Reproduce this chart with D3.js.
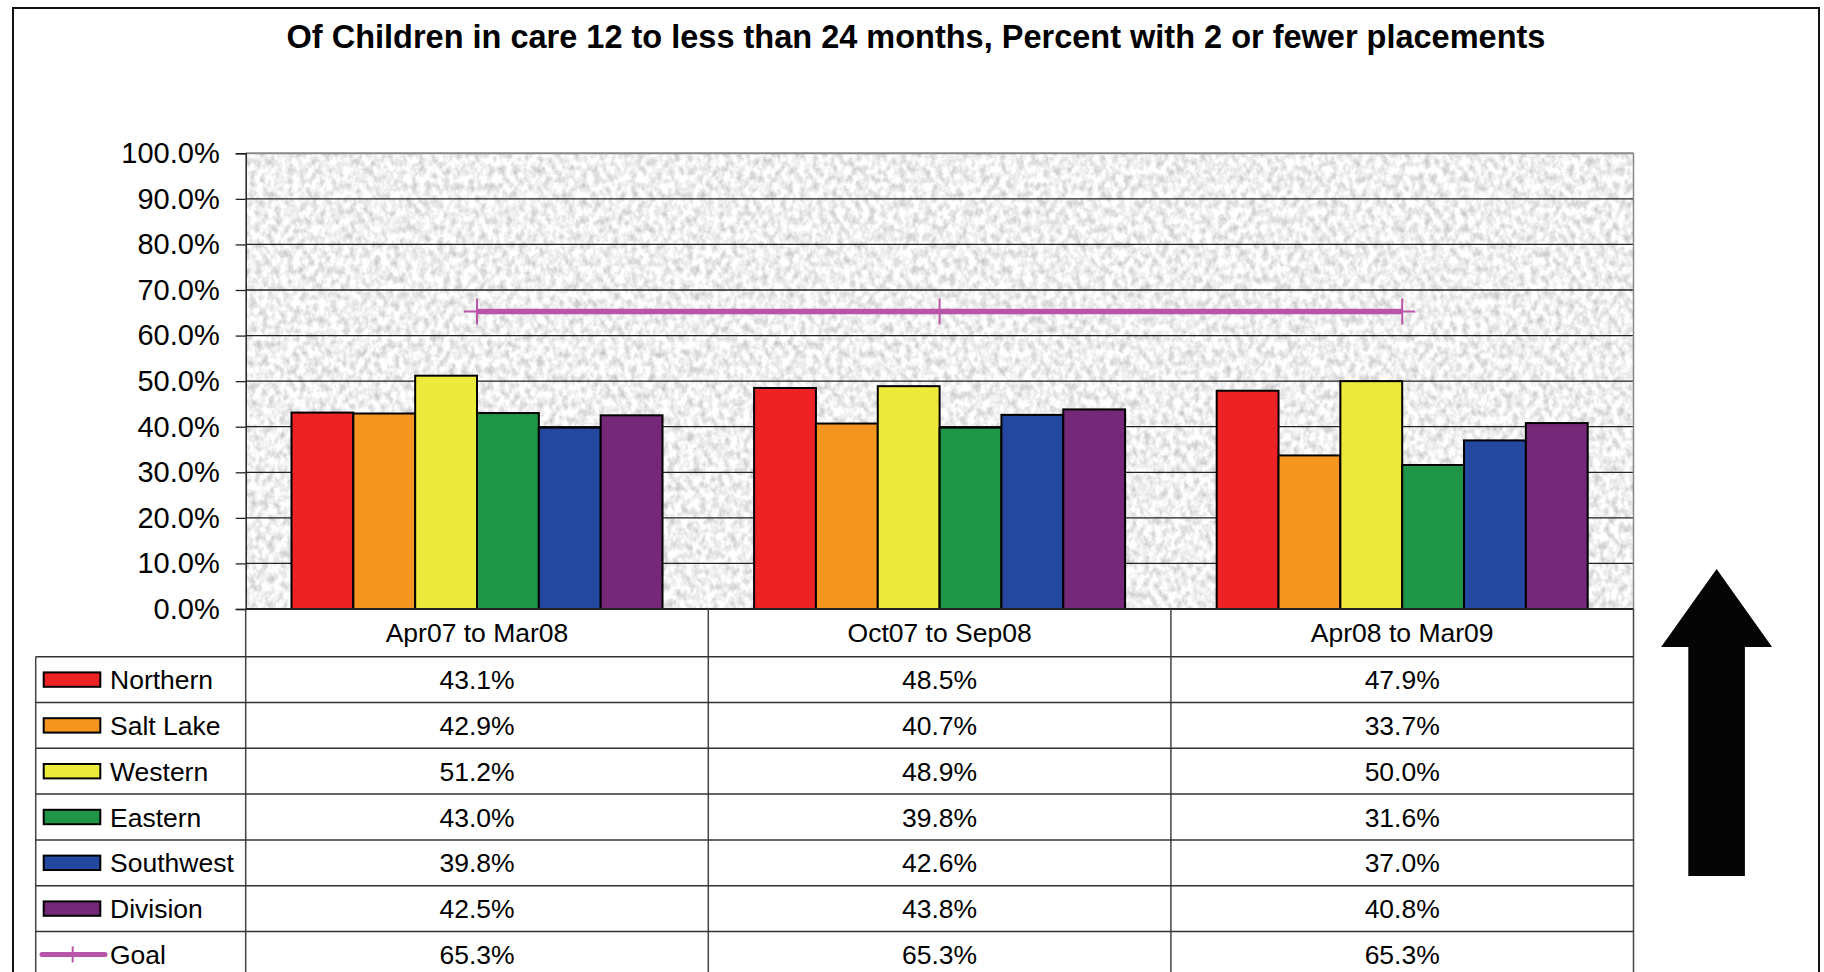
<!DOCTYPE html>
<html>
<head>
<meta charset="utf-8">
<script src="https://cdn.jsdelivr.net/npm/d3@7/dist/d3.min.js"></script>
<style>
  html, body { margin: 0; padding: 0; background: #fff; }
  svg { display: block; font-family: "Liberation Sans", Arial, sans-serif; }
</style>
</head>
<body>
<svg width="1824" height="972"></svg>
<script>
var categories = ["Apr07 to Mar08", "Oct07 to Sep08", "Apr08 to Mar09"];
var regions = ["Northern", "Salt Lake", "Western", "Eastern", "Southwest", "Division"];
var regionColors = ["#ed2224", "#f4951f", "#eeea3c", "#1f9548", "#24489f", "#752877"];
var northern = [43.1, 48.5, 47.9];
var saltLake = [42.9, 40.7, 33.7];
var western = [51.2, 48.9, 50.0];
var eastern = [43.0, 39.8, 31.6];
var southwest = [39.8, 42.6, 37.0];
var division = [42.5, 43.8, 40.8];
var goal = [65.3, 65.3, 65.3];
var yTicks = [0, 10, 20, 30, 40, 50, 60, 70, 80, 90, 100];

var series = [northern, saltLake, western, eastern, southwest, division].map(function (v, i) {
    return {name: regions[i], color: regionColors[i], values: v};
});

var svg = d3.select("svg"),
    box = {left: 13, top: 8, right: 1819, bottom: 995},
    plot = {left: 245.7, right: 1633.5, top: 153.3, bottom: 609},
    table = {left: 35.7, top: 656.7, rowH: 45.8},
    goalColor = "#b955a8";

var fmt = function (v) { return v.toFixed(1) + "%"; };

// granite-ish background texture
var defs = svg.append("defs");
var filt = defs.append("filter").attr("id", "granite")
    .attr("x", 0).attr("y", 0).attr("width", 1).attr("height", 1)
    .attr("color-interpolation-filters", "sRGB");
filt.append("feTurbulence").attr("type", "fractalNoise")
    .attr("baseFrequency", "0.16 0.12").attr("numOctaves", 3).attr("seed", 7);
filt.append("feColorMatrix").attr("type", "matrix")
    .attr("values", "0.42 0 0 0 0.73  0.42 0 0 0 0.73  0.42 0 0 0 0.73  0 0 0 0 1");
filt.append("feComposite").attr("in2", "SourceGraphic").attr("operator", "in");

svg.append("rect")
    .attr("x", box.left).attr("y", box.top)
    .attr("width", box.right - box.left).attr("height", box.bottom - box.top)
    .attr("fill", "#fff").attr("stroke", "#111").attr("stroke-width", 2);

svg.append("text")
    .attr("x", (box.left + box.right) / 2).attr("y", 48)
    .attr("text-anchor", "middle")
    .style("font-size", "32.5px").style("font-weight", "bold")
    .text("Of Children in care 12 to less than 24 months, Percent with 2 or fewer placements");

var x = d3.scaleBand().domain(categories).range([plot.left, plot.right]).padding(0),
    bw = x.bandwidth(),
    x1 = d3.scaleBand().domain(regions).range([bw * 0.099, bw * 0.901]).padding(0),
    y = d3.scaleLinear().domain([0, 100]).range([plot.bottom, plot.top]);

svg.append("rect")
    .attr("x", plot.left).attr("y", plot.top)
    .attr("width", plot.right - plot.left).attr("height", plot.bottom - plot.top)
    .attr("fill", "#ececec").attr("filter", "url(#granite)");

// gridlines
svg.append("g").selectAll("line")
    .data(yTicks.filter(function (t) { return t > 0 && t < 100; }))
    .enter().append("line")
    .attr("x1", plot.left).attr("x2", plot.right)
    .attr("y1", function (d) { return y(d); }).attr("y2", function (d) { return y(d); })
    .attr("stroke", "#222").attr("stroke-width", 1.3);

svg.append("line")
    .attr("x1", plot.left).attr("x2", plot.right)
    .attr("y1", plot.top).attr("y2", plot.top)
    .attr("stroke", "#888").attr("stroke-width", 2);
svg.append("line")
    .attr("x1", plot.right).attr("x2", plot.right)
    .attr("y1", plot.top).attr("y2", plot.bottom)
    .attr("stroke", "#888").attr("stroke-width", 1.5);

// y axis
var yAxis = svg.append("g")
    .attr("transform", "translate(" + plot.left + ",0)")
    .call(d3.axisLeft(y).tickValues(yTicks).tickSize(10).tickPadding(16)
        .tickFormat(function (d) { return d.toFixed(1) + "%"; }));
yAxis.select(".domain").attr("stroke", "#222").attr("stroke-width", 1.5);
yAxis.selectAll(".tick line").attr("stroke", "#222").attr("stroke-width", 1.3);
yAxis.selectAll(".tick text")
    .attr("fill", "#000")
    .style("font-size", "29px")
    .style("font-family", "'Liberation Sans', Arial, sans-serif");

// bars
var group = svg.append("g").selectAll("g")
    .data(categories)
    .enter().append("g")
    .attr("transform", function (d) { return "translate(" + x(d) + ",0)"; });

group.selectAll("rect")
    .data(function (c, ci) {
        return series.map(function (s) { return {name: s.name, color: s.color, value: s.values[ci]}; });
    })
    .enter().append("rect")
    .attr("x", function (d) { return x1(d.name); })
    .attr("y", function (d) { return y(d.value); })
    .attr("width", x1.bandwidth())
    .attr("height", function (d) { return y(0) - y(d.value); })
    .attr("fill", function (d) { return d.color; })
    .attr("stroke", "#000").attr("stroke-width", 2);

svg.append("line")
    .attr("x1", plot.left).attr("x2", plot.right)
    .attr("y1", plot.bottom).attr("y2", plot.bottom)
    .attr("stroke", "#222").attr("stroke-width", 2);

// goal line
var line = d3.line()
    .x(function (d, i) { return x(categories[i]) + bw / 2; })
    .y(function (d) { return y(d); });

svg.append("path")
    .datum(goal)
    .attr("d", line)
    .attr("fill", "none").attr("stroke", goalColor).attr("stroke-width", 5.5);

svg.append("g").selectAll("path")
    .data(goal)
    .enter().append("path")
    .attr("d", function (d, i) {
        var cx = x(categories[i]) + bw / 2, cy = y(d);
        return "M" + (cx - 13) + "," + cy + "H" + (cx + 13) + "M" + cx + "," + (cy - 13) + "V" + (cy + 13);
    })
    .attr("stroke", goalColor).attr("stroke-width", 2);

// data table
var rows = series.concat([{name: "Goal", color: goalColor, values: goal, isLine: true}]);
var tableBottom = table.top + rows.length * table.rowH;
var tbl = svg.append("g");

tbl.selectAll("text.cat")
    .data(categories)
    .enter().append("text")
    .attr("class", "cat")
    .attr("x", function (d) { return x(d) + bw / 2; })
    .attr("y", (plot.bottom + table.top) / 2 + 9.5)
    .attr("text-anchor", "middle")
    .style("font-size", "26.5px")
    .text(function (d) { return d; });

// vertical separators
tbl.selectAll("line.v")
    .data(categories.map(function (c) { return x(c); }).concat([plot.right]))
    .enter().append("line")
    .attr("x1", function (d) { return d; }).attr("x2", function (d) { return d; })
    .attr("y1", plot.bottom).attr("y2", tableBottom)
    .attr("stroke", "#444").attr("stroke-width", 1.5);
tbl.append("line")
    .attr("x1", table.left).attr("x2", table.left)
    .attr("y1", table.top).attr("y2", tableBottom)
    .attr("stroke", "#444").attr("stroke-width", 1.5);

// horizontal separators
tbl.selectAll("line.h")
    .data(d3.range(rows.length + 1))
    .enter().append("line")
    .attr("x1", table.left).attr("x2", plot.right)
    .attr("y1", function (i) { return table.top + i * table.rowH; })
    .attr("y2", function (i) { return table.top + i * table.rowH; })
    .attr("stroke", "#333").attr("stroke-width", 1.5);

var row = tbl.selectAll("g.row")
    .data(rows)
    .enter().append("g")
    .attr("class", "row")
    .attr("transform", function (d, i) { return "translate(0," + (table.top + i * table.rowH + table.rowH / 2) + ")"; });

row.filter(function (d) { return !d.isLine; })
    .append("rect")
    .attr("x", 43.7).attr("y", -7.2)
    .attr("width", 56.6).attr("height", 14.4)
    .attr("fill", function (d) { return d.color; })
    .attr("stroke", "#000").attr("stroke-width", 2);

var goalKey = row.filter(function (d) { return d.isLine; });
goalKey.append("line")
    .attr("x1", 42).attr("x2", 105).attr("y1", 0).attr("y2", 0)
    .attr("stroke", goalColor).attr("stroke-width", 5).attr("stroke-linecap", "round");
goalKey.append("line")
    .attr("x1", 72.7).attr("x2", 72.7).attr("y1", -8).attr("y2", 8)
    .attr("stroke", goalColor).attr("stroke-width", 2);

row.append("text")
    .attr("x", 110).attr("y", 9.5)
    .style("font-size", "26.5px")
    .text(function (d) { return d.name; });

row.selectAll("text.val")
    .data(function (d) { return d.values; })
    .enter().append("text")
    .attr("class", "val")
    .attr("x", function (v, i) { return x(categories[i]) + bw / 2; })
    .attr("y", 9.5)
    .attr("text-anchor", "middle")
    .style("font-size", "26.5px")
    .text(fmt);

// "higher is better" arrow
var arrow = {cx: 1716.6, tip: 569, headBase: 647, headHalf: 55.5, shaftHalf: 28.3, bottom: 876};
svg.append("path")
    .attr("d", "M" + arrow.cx + "," + arrow.tip +
        "L" + (arrow.cx + arrow.headHalf) + "," + arrow.headBase +
        "H" + (arrow.cx + arrow.shaftHalf) + "V" + arrow.bottom +
        "H" + (arrow.cx - arrow.shaftHalf) + "V" + arrow.headBase +
        "H" + (arrow.cx - arrow.headHalf) + "Z")
    .attr("fill", "#050505");
</script>
</body>
</html>
